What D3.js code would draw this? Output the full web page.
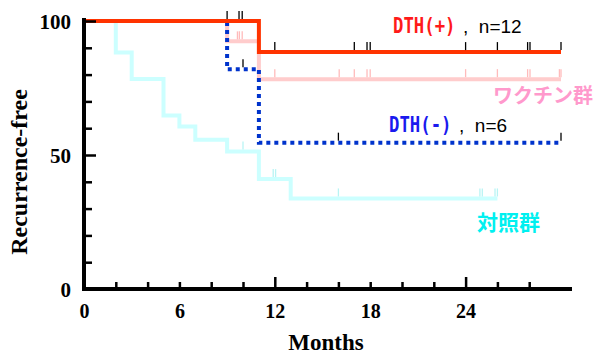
<!DOCTYPE html>
<html>
<head>
<meta charset="utf-8">
<script src="https://cdn.jsdelivr.net/npm/d3@7"></script>
<style>
  body { margin: 0; background: #fff; }
  svg { display: block; }
</style>
</head>
<body>
<div id="main"></div>
<script>
const W = 599, H = 354;

// KM steps: [month, % recurrence-free]
const dthPos = [[0, 100], [11, 88.4]];
const vaccine = [[0, 100], [9, 92.4], [11, 78.3]];
const dthNeg = [[0, 100], [9, 82], [11, 54.6]];
const control = [[0, 100], [2, 88.2], [3, 78.4], [5, 64.7], [6, 60.6], [7, 55.7], [9, 51.3], [11, 41], [13, 33.8]];
const ends = { dthPos: 30, vaccine: 30, dthNeg: 30, control: 26 };

// censored observations (months)
const dthPosCens = [9, 9.75, 9.95, 12, 17, 17.8, 18, 24, 26, 27.9, 28.05, 30];
const vaccineCens = [9.65, 9.77, 9.95, 12, 16.05, 17, 17.8, 18, 24, 26, 27.9, 28.05, 29.9, 30];
const dthNegCens = [10, 16, 30];
const controlCens = [10, 11.9, 12.05, 16, 24.9, 25.05, 25.85, 26];

const xLabels = [0, 6, 12, 18, 24];
const xMinor = [2, 4, 6, 8, 10, 14, 16, 18, 20, 22, 26, 28];
const xMajor = [12, 24];
const yLabels = [0, 50, 100];
const yMinor = [10, 20, 30, 40, 60, 70, 80, 90];

const x = d3.scaleLinear().domain([0, 30]).range([84, 561]);
const y = d3.scaleLinear().domain([0, 100]).range([289, 21]);

const svg = d3.select("#main").append("svg").attr("width", W).attr("height", H);

// survival step path
function stepPath(pts, end) {
    const all = pts.concat([[end, pts[pts.length - 1][1]]]);
    return d3.line().curve(d3.curveStepAfter).x(d => x(d[0])).y(d => y(d[1]))(all);
}
function valueAt(pts, t) {
    let v = pts[0][1];
    pts.forEach(p => { if (p[0] <= t) v = p[1]; });
    return v;
}

const curves = [
    { pts: control, end: ends.control, cens: controlCens, color: "#ccffff", tick: "#b8f4f4", dash: null },
    { pts: vaccine, end: ends.vaccine, cens: vaccineCens, color: "#ffcccc", tick: "#ffbbbb", dash: null },
    { pts: dthNeg, end: ends.dthNeg, cens: dthNegCens, color: "#0033cc", tick: "#000", dash: "4,4" },
    { pts: dthPos, end: ends.dthPos, cens: dthPosCens, color: "#ff3300", tick: "#000", dash: null }
];

curves.forEach(c => {
    svg.append("path")
        .attr("d", stepPath(c.pts, c.end))
        .attr("fill", "none")
        .attr("stroke", c.color)
        .attr("stroke-width", 4)
        .attr("stroke-dasharray", c.dash);
    svg.append("g").selectAll("line")
        .data(c.cens)
        .enter()
        .append("line")
        .attr("x1", d => x(d)).attr("x2", d => x(d))
        .attr("y1", d => y(valueAt(c.pts, d)) - 2)
        .attr("y2", d => y(valueAt(c.pts, d)) - 10)
        .attr("stroke", c.tick)
        .attr("stroke-width", 1.3);
});

// axes
const font = "'Liberation Serif', 'Times New Roman', serif";

function styleAxis(g) {
    g.select(".domain").remove();
    g.selectAll(".tick line").attr("stroke", "#000").attr("stroke-width", 2.5);
    g.selectAll("text").attr("font-family", font).attr("font-weight", "bold")
        .attr("font-size", 20).attr("fill", "#000");
}

svg.append("g").attr("transform", "translate(84,0)")
    .call(d3.axisLeft(y).tickValues(yMinor).tickSize(-8).tickFormat(""))
    .call(styleAxis);
svg.append("g").attr("transform", "translate(84,0)")
    .call(d3.axisLeft(y).tickValues(yLabels).tickSize(-12).tickPadding(13))
    .call(styleAxis)
    .selectAll("text").attr("dy", "0.35em").attr("font-size", 21);

svg.append("g").attr("transform", "translate(0,289)")
    .call(d3.axisBottom(x).tickValues(xMinor).tickSize(-7).tickFormat(""))
    .call(styleAxis);
svg.append("g").attr("transform", "translate(0,289)")
    .call(d3.axisBottom(x).tickValues(xMajor).tickSize(-12).tickFormat(""))
    .call(styleAxis);
svg.append("g").attr("transform", "translate(0,289)")
    .call(d3.axisBottom(x).tickValues(xLabels).tickSize(0).tickPadding(15))
    .call(styleAxis);

// axis lines
svg.append("line").attr("x1", x(0)).attr("x2", 572).attr("y1", y(0)).attr("y2", y(0))
    .attr("stroke", "#000").attr("stroke-width", 4);
svg.append("line").attr("x1", x(0)).attr("x2", x(0)).attr("y1", 18).attr("y2", y(0) + 2)
    .attr("stroke", "#000").attr("stroke-width", 4);

// titles
svg.append("text").attr("x", 326).attr("y", 350).attr("text-anchor", "middle")
    .attr("font-family", font).attr("font-weight", "bold").attr("font-size", 23)
    .text("Months");
svg.append("text").attr("transform", "translate(27,172) rotate(-90)").attr("text-anchor", "middle")
    .attr("font-family", font).attr("font-weight", "bold").attr("font-size", 24)
    .text("Recurrence-free");

// legend labels
const mono = "'DejaVu Sans Mono', monospace";
const sans = "'Liberation Sans', Arial, sans-serif";
const cjk = "'Noto Sans CJK JP', sans-serif";

function groupLabel(lx, ly, name, color, n) {
    // narrow bold gothic look: monospace stretched vertically
    svg.append("text").attr("transform", `translate(${lx},${ly}) scale(1,1.2)`)
        .attr("font-family", mono).attr("font-weight", "bold").attr("font-size", 17.3)
        .attr("fill", color).text(name);
    svg.append("text").attr("x", lx + 70).attr("y", ly)
        .attr("font-family", sans).attr("font-size", 19).attr("fill", "#000")
        .attr("xml:space", "preserve")
        .text(",  " + n);
}
groupLabel(393, 33, "DTH(+)", "#ff1a1a", "n=12");
groupLabel(389, 132, "DTH(-)", "#1a1aee", "n=6");

svg.append("text").attr("x", 493).attr("y", 103)
    .attr("font-family", cjk).attr("font-weight", "bold").attr("font-size", 20)
    .attr("fill", "#ff99cc").text("ワクチン群");
svg.append("text").attr("x", 477).attr("y", 230)
    .attr("font-family", cjk).attr("font-weight", "bold").attr("font-size", 21)
    .attr("fill", "#00f0f0").text("対照群");
</script>
</body>
</html>
